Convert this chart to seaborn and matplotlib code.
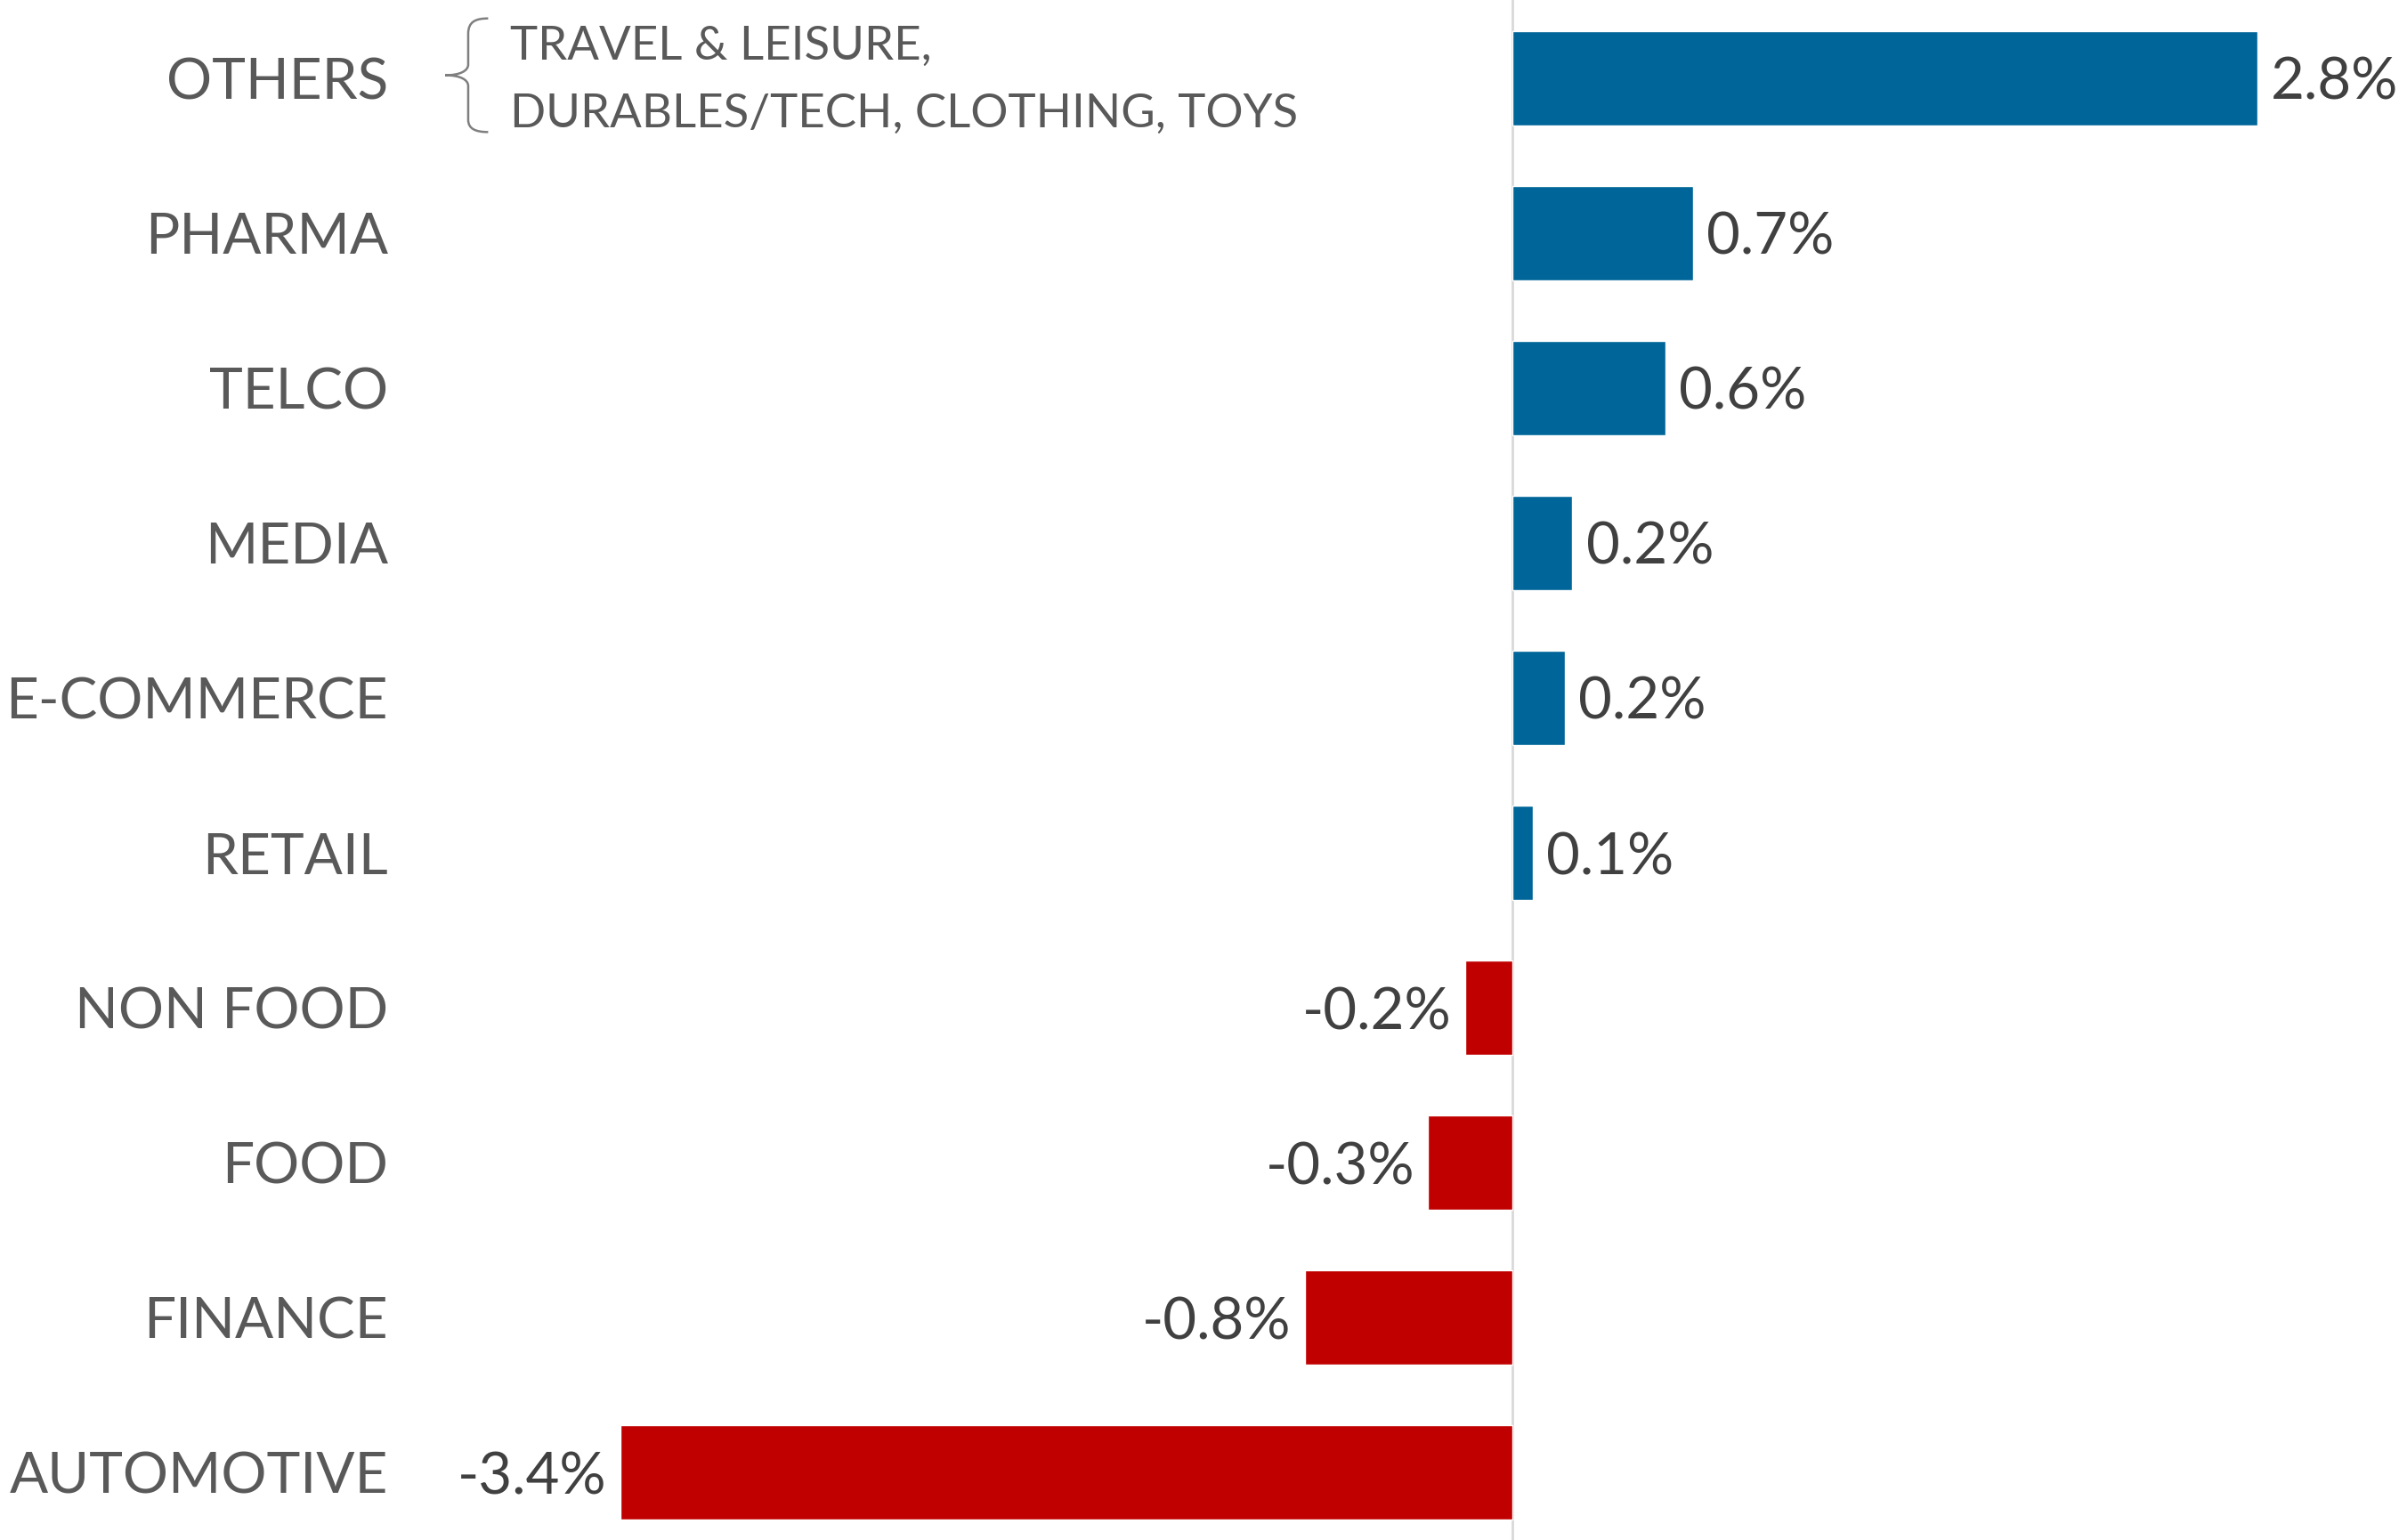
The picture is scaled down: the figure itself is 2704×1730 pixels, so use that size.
import matplotlib
matplotlib.use("Agg")
import matplotlib.pyplot as plt
import seaborn as sns
import pandas as pd
from matplotlib.path import Path
from matplotlib.patches import PathPatch

categories = ["OTHERS", "PHARMA", "TELCO", "MEDIA", "E-COMMERCE", "RETAIL",
              "NON FOOD", "FOOD", "FINANCE", "AUTOMOTIVE"]
values = [2.84, 0.69, 0.585, 0.23, 0.2, 0.08, -0.18, -0.32, -0.79, -3.4]
value_labels = ["2.8%", "0.7%", "0.6%", "0.2%", "0.2%", "0.1%",
                "-0.2%", "-0.3%", "-0.8%", "-3.4%"]
others_note = ["TRAVEL & LEISURE,", "DURABLES/TECH, CLOTHING, TOYS"]

BLUE = "#006699"
RED = "#C00000"

sns.set_theme(style="white")
plt.rcParams['font.family'] = ['Lato', 'DejaVu Sans']

df = pd.DataFrame({"cat": categories, "val": values,
                   "sign": ["pos" if v >= 0 else "neg" for v in values]})

W, H = 1568.0, 1003.0  # reference (shrunk) coordinate frame
fig = plt.figure(figsize=(27.04, 17.30), dpi=100)
ax_left = 298 / W
ax = fig.add_axes([ax_left, 0, 1 - ax_left, 1])

sns.barplot(data=df, x="val", y="cat", hue="sign", order=categories,
            palette={"pos": BLUE, "neg": RED}, dodge=False, width=0.61,
            legend=False, ax=ax, saturation=1)

px_per_unit = 170.9
zero_x = 985
ax.set_xlim(-(zero_x - 298) / px_per_unit, (W - zero_x) / px_per_unit)
ax.set_ylim(9.436, -0.505)

for s in ax.spines.values():
    s.set_visible(False)
ax.axvline(0, color="#D9D9D9", lw=2, zorder=0)
ax.set_xticks([])
ax.set_xlabel("")
ax.set_ylabel("")
ax.tick_params(axis="y", length=0, pad=56, labelsize=46, labelcolor="#595959")

for i, (v, lab) in enumerate(zip(values, value_labels)):
    if v >= 0:
        ax.annotate(lab, (v, i), xytext=(11, 0), textcoords="offset points",
                    ha="left", va="center_baseline", fontsize=47, color="#404040")
    else:
        ax.annotate(lab, (v, i), xytext=(-11, 0), textcoords="offset points",
                    ha="right", va="center_baseline", fontsize=47, color="#404040")

# brace next to OTHERS
def fp(x, y):
    return (x / W, 1 - y / H)

verts = [fp(318, 12), fp(310, 12), fp(305, 14), fp(305, 22),
         fp(305, 42),
         fp(305, 46), fp(300, 49), fp(290, 49),
         fp(300, 49), fp(305, 52), fp(305, 56),
         fp(305, 78),
         fp(305, 84), fp(310, 86), fp(318, 86)]
codes = [Path.MOVETO, Path.CURVE4, Path.CURVE4, Path.CURVE4,
         Path.LINETO,
         Path.CURVE4, Path.CURVE4, Path.CURVE4,
         Path.CURVE4, Path.CURVE4, Path.CURVE4,
         Path.LINETO,
         Path.CURVE4, Path.CURVE4, Path.CURVE4]
fig.add_artist(PathPatch(Path(verts, codes), transform=fig.transFigure,
                         fill=False, edgecolor="#7F7F7F", lw=1.8))

fig.text(332 / W, 1 - 28 / H, others_note[0], ha="left", va="center_baseline",
         fontsize=38, color="#595959")
fig.text(332 / W, 1 - 72 / H, others_note[1], ha="left", va="center_baseline",
         fontsize=38, color="#595959")

fig.savefig("out.png", dpi=100, facecolor="white")
